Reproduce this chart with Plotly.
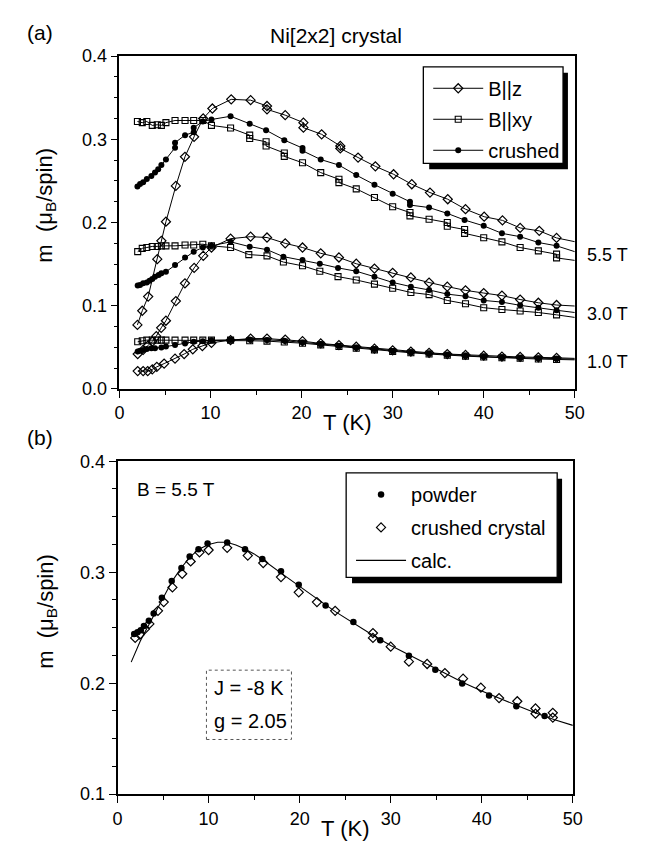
import plotly.graph_objects as go

W, H = 652, 844
def X(px): return px / W
def Y(py): return 1 - py / H

FONT = "Liberation Sans, Arial, sans-serif"

# ---------------- panel (a) data ----------------
# B||z
z55_T = [1.97, 2.5, 3.15, 4.15, 4.6, 5.1, 6.19, 7.19, 8.19, 9.19, 10.2, 12.27, 14.4, 16.2, 16.2, 18.2, 20.2, 20.2, 22.2,
         24.25, 24.25, 26.2, 28.1, 30.1, 32.1, 34.1, 36.05, 38.0, 40.05, 42.06, 44.0, 46.1, 48.0]
z55_m = [0.077, 0.094, 0.111, 0.156, 0.178, 0.201, 0.244, 0.279, 0.303, 0.325, 0.337, 0.348, 0.347, 0.340, 0.336, 0.329,
         0.320, 0.314, 0.306, 0.292, 0.289, 0.278, 0.2675, 0.258, 0.246, 0.236, 0.228, 0.216, 0.207, 0.2026, 0.1935,
         0.190, 0.1815]
z55_end = 0.177
z30_T = [2.0, 2.6, 3.1, 3.6, 4.04, 4.58, 5.1, 6.19, 7.19, 8.2, 9.2, 10.1, 12.2, 14.4, 16.2, 18.2, 20.1, 22.1, 24.1, 26.0,
         28.0, 30.0, 32.0, 34.0, 36.0, 38.0, 40.0, 42.0, 44.0, 46.0, 48.0]
z30_m = [0.042, 0.047, 0.052, 0.057, 0.0635, 0.0735, 0.082, 0.1056, 0.127, 0.1455, 0.160, 0.170, 0.1806, 0.183, 0.182,
         0.175, 0.170, 0.163, 0.158, 0.1505, 0.1447, 0.1396, 0.134, 0.1279, 0.123, 0.1185, 0.1153, 0.1122, 0.1075,
         0.1036, 0.1009]
z30_end = 0.0997
z10_T = [2.0, 2.6, 3.1, 3.6, 4.1, 4.9, 6.1, 7.1, 8.05, 9.1, 10.1, 12.2, 14.4, 16.2, 18.2, 20.1, 22.1, 24.1, 26.0, 28.0,
         30.0, 32.0, 34.0, 36.0, 38.0, 40.0, 42.0, 44.0, 46.0, 48.0]
z10_m = [0.0215, 0.0215, 0.0215, 0.0235, 0.0266, 0.0305, 0.0364, 0.042, 0.0477, 0.0516, 0.0555, 0.0587, 0.0606, 0.0606,
         0.0594, 0.0575, 0.0547, 0.0528, 0.0508, 0.0485, 0.0465, 0.045, 0.0435, 0.042, 0.041, 0.040, 0.039, 0.0385,
         0.038, 0.0375]
z10_end = 0.0368

# B||xy
xy55_T = [1.97, 2.5, 3.0, 3.6, 4.15, 4.6, 5.1, 6.1, 7.2, 8.15, 9.15, 10.1, 12.2, 14.3, 14.3, 16.1, 16.1, 18.1, 18.1, 20.1,
          22.1, 24.1, 24.1, 26.0, 28.0, 30.0, 31.9, 31.9, 34.0, 36.0, 36.0, 37.9, 37.9, 40.0, 42.0, 44.0, 46.0, 48.0, 48.0]
xy55_m = [0.3214, 0.320, 0.3214, 0.3167, 0.3175, 0.3167, 0.320, 0.3226, 0.3226, 0.3226, 0.3226, 0.3167, 0.3136, 0.305,
          0.301, 0.297, 0.292, 0.2835, 0.2795, 0.2718, 0.260, 0.252, 0.248, 0.2405, 0.230, 0.219, 0.212, 0.208, 0.204,
          0.200, 0.1955, 0.1916, 0.187, 0.1818, 0.1768, 0.170, 0.166, 0.162, 0.1575]
xy55_end = 0.1545
xy30_T = [2.0, 2.5, 3.0, 3.6, 4.15, 4.6, 5.1, 6.1, 7.2, 8.15, 9.15, 10.1, 12.2, 14.2, 16.2, 18.0, 20.1, 22.0, 24.0, 26.0,
          28.0, 30.0, 32.0, 34.0, 36.0, 38.0, 40.0, 42.0, 44.0, 46.0, 48.0]
xy30_m = [0.165, 0.169, 0.170, 0.1713, 0.1713, 0.172, 0.172, 0.172, 0.173, 0.173, 0.174, 0.172, 0.170, 0.1615, 0.160,
          0.1525, 0.148, 0.1415, 0.135, 0.131, 0.126, 0.121, 0.116, 0.1134, 0.1064, 0.1024, 0.0977, 0.0955, 0.0938,
          0.0919, 0.0891]
xy30_end = 0.086
xy10_T = [2.0, 2.5, 3.0, 3.6, 4.15, 4.6, 5.1, 6.1, 7.2, 8.15, 9.15, 10.1, 12.2, 14.3, 16.2, 18.1, 20.1, 22.1, 24.1, 26.0,
          28.0, 30.0, 32.0, 34.0, 36.0, 38.0, 40.0, 42.0, 44.0, 46.0, 48.0]
xy10_m = [0.0567, 0.058, 0.0587, 0.0587, 0.0587, 0.0587, 0.0587, 0.0587, 0.0587, 0.0587, 0.0587, 0.0587, 0.0587, 0.058,
          0.0575, 0.0565, 0.055, 0.053, 0.051, 0.049, 0.047, 0.045, 0.0435, 0.042, 0.0405, 0.0395, 0.0385, 0.0375,
          0.037, 0.036, 0.0355]
xy10_end = 0.035

# crushed
cr55_T = [1.97, 2.26, 2.6, 3.0, 3.5, 3.9, 4.25, 4.6, 5.1, 6.1, 6.1, 7.2, 8.15, 8.15, 9.15, 10.1, 12.2, 14.3, 16.1, 18.1,
          20.1, 20.1, 22.1, 24.1, 26.0, 28.0, 30.0, 31.9, 31.9, 34.0, 36.0, 37.9, 40.0, 42.0, 44.0, 46.0, 48.0]
cr55_m = [0.2432, 0.2463, 0.2483, 0.2522, 0.256, 0.260, 0.264, 0.269, 0.2757, 0.290, 0.296, 0.305, 0.3085, 0.314, 0.3214,
          0.3238, 0.3277, 0.3187, 0.3109, 0.299, 0.2895, 0.2862, 0.2757, 0.269, 0.257, 0.2455, 0.2346, 0.225, 0.221,
          0.218, 0.211, 0.203, 0.196, 0.187, 0.183, 0.176, 0.172]
cr55_end = 0.165
cr30_T = [2.0, 2.26, 2.6, 3.0, 3.3, 3.6, 3.9, 4.3, 4.6, 5.1, 6.1, 7.2, 8.15, 9.15, 10.1, 12.2, 14.3, 16.2, 18.0, 20.1,
          22.0, 24.0, 26.0, 28.0, 30.0, 32.0, 34.0, 36.0, 38.0, 40.0, 42.0, 44.0, 46.0, 48.0]
cr30_m = [0.1243, 0.125, 0.127, 0.128, 0.130, 0.1321, 0.135, 0.137, 0.139, 0.1408, 0.149, 0.158, 0.165, 0.170, 0.172,
          0.1768, 0.171, 0.1674, 0.159, 0.155, 0.1505, 0.1455, 0.1415, 0.1349, 0.128, 0.123, 0.119, 0.114, 0.1114,
          0.1064, 0.1044, 0.1005, 0.0977, 0.0946]
cr30_end = 0.0919
cr10_T = [2.0, 2.26, 2.6, 3.0, 3.5, 3.9, 4.6, 5.1, 6.1, 7.2, 8.15, 9.15, 10.1, 12.2, 14.3, 16.2, 18.1, 20.1, 22.1, 24.1,
          26.0, 28.0, 30.0, 32.0, 34.0, 36.0, 38.0, 40.0, 42.0, 44.0, 46.0, 48.0]
cr10_m = [0.045, 0.046, 0.047, 0.048, 0.049, 0.049, 0.050, 0.051, 0.0528, 0.0547, 0.0567, 0.0575, 0.0587, 0.059, 0.0595,
          0.059, 0.058, 0.056, 0.054, 0.052, 0.050, 0.048, 0.0458, 0.0443, 0.0428, 0.0413, 0.040, 0.039, 0.038, 0.0375,
          0.037, 0.0365]
cr10_end = 0.0358

field_labels = ["5.5 T", "3.0 T", "1.0 T"]
field_label_m = [0.161, 0.090, 0.033]

# ---------------- panel (b) data ----------------
powder_T = [1.83, 2.19, 2.55, 2.9, 3.44, 3.97, 4.87, 5.95, 7.02, 7.92, 8.89, 9.89, 12.04, 14.0, 15.9, 17.95, 19.9,
            22.85, 25.9, 28.85, 32.0, 34.9, 37.85, 40.8, 43.8, 46.9]
powder_m = [0.2443, 0.2458, 0.2476, 0.2516, 0.2563, 0.2628, 0.2769, 0.2921, 0.3039, 0.3141, 0.3208, 0.3258, 0.3267,
            0.3208, 0.3118, 0.3009, 0.2886, 0.2701, 0.2551, 0.2388, 0.2247, 0.212, 0.1997, 0.1889, 0.1792, 0.1705]
cc_T = [1.94, 2.45, 3.0, 3.5, 4.44, 5.07, 6.03, 7.1, 8.03, 9.0, 10.0, 12.04, 14.3, 16.0, 17.95, 19.9, 21.9, 23.9, 28.05,
        28.05, 30.0, 32.0, 34.0, 35.95, 37.95, 39.9, 41.9, 43.9, 45.9, 45.9, 47.8, 47.8]
cc_m = [0.2408, 0.2437, 0.2487, 0.2534, 0.2652, 0.2731, 0.2863, 0.2986, 0.3097, 0.3179, 0.320, 0.322, 0.315, 0.3083,
        0.2956, 0.2819, 0.2731, 0.2652, 0.2452, 0.2408, 0.2329, 0.2194, 0.2173, 0.2091, 0.2041, 0.196, 0.1866, 0.1837,
        0.1772, 0.1725, 0.1733, 0.169]
calc_T = [1.5, 2.0, 2.5, 3.0, 4.0, 5.0, 6.0, 7.0, 8.0, 9.0, 10.0, 11.0, 12.0, 13.0, 14.0, 15.0, 16.0, 18.0, 20.0, 22.0,
          24.0, 26.0, 28.0, 30.0, 32.0, 34.0, 36.0, 38.0, 40.0, 42.0, 44.0, 46.0, 48.0, 50.0]
calc_m = [0.219, 0.229, 0.238, 0.246, 0.261, 0.277, 0.292, 0.304, 0.314, 0.321, 0.325, 0.327, 0.327, 0.3245, 0.321,
          0.3165, 0.311, 0.299, 0.287, 0.2755, 0.264, 0.2535, 0.2435, 0.234, 0.2255, 0.2175, 0.209, 0.2005, 0.193,
          0.186, 0.1795, 0.173, 0.167, 0.162]

# ---------------- figure ----------------
fig = go.Figure()
LW = 1.0
sty = {
    "z": dict(symbol="diamond-open", size=7, color="black", line=dict(width=1.2, color="black")),
    "xy": dict(symbol="square-open", size=6, color="black", line=dict(width=1.1, color="black")),
    "cr": dict(symbol="circle", size=6, color="black", line=dict(width=0, color="black")),
}
names = {"z": "B||z", "xy": "B||xy", "cr": "crushed"}
series = {
    "z": [(z55_T, z55_m, z55_end), (z30_T, z30_m, z30_end), (z10_T, z10_m, z10_end)],
    "xy": [(xy55_T, xy55_m, xy55_end), (xy30_T, xy30_m, xy30_end), (xy10_T, xy10_m, xy10_end)],
    "cr": [(cr55_T, cr55_m, cr55_end), (cr30_T, cr30_m, cr30_end), (cr10_T, cr10_m, cr10_end)],
}
for key in ["z", "xy", "cr"]:
    for i, (T, m, end) in enumerate(series[key]):
        fig.add_trace(go.Scatter(x=[T[-1], 50], y=[m[-1], end], mode="lines", line=dict(color="black", width=LW),
                                 showlegend=False, legendgroup=key, xaxis="x", yaxis="y", hoverinfo="skip"))
        fig.add_trace(go.Scatter(x=T, y=m, mode="lines+markers", name=names[key], marker=sty[key],
                                 line=dict(color="black", width=LW), showlegend=(i == 0), legendgroup=key,
                                 xaxis="x", yaxis="y", legend="legend"))

fig.add_trace(go.Scatter(x=powder_T, y=powder_m, mode="markers", name="powder", legendgroup="p",
                         marker=dict(symbol="circle", size=6.5, color="black"), xaxis="x2", yaxis="y2", legend="legend2"))
fig.add_trace(go.Scatter(x=cc_T, y=cc_m, mode="markers", name="crushed crystal", legendgroup="c",
                         marker=dict(symbol="diamond-open", size=7, color="black", line=dict(width=1.2, color="black")),
                         xaxis="x2", yaxis="y2", legend="legend2"))
fig.add_trace(go.Scatter(x=calc_T, y=calc_m, mode="lines", name="calc.", legendgroup="k",
                         line=dict(color="black", width=1.1), xaxis="x2", yaxis="y2", legend="legend2"))

axis_common = dict(showline=True, linecolor="black", linewidth=1.6, mirror=True, ticks="outside", ticklen=7,
                   tickwidth=1.3, tickcolor="black", showgrid=False, zeroline=False,
                   tickfont=dict(family=FONT, size=18, color="black"))
xminor = dict(dtick=5, ticks="outside", ticklen=4, tickwidth=1.1, tickcolor="black", showgrid=False)
yminor = dict(dtick=0.025, ticks="outside", ticklen=4, tickwidth=1.1, tickcolor="black", showgrid=False)

fig.update_layout(
    width=W, height=H, margin=dict(l=0, r=0, t=0, b=0), paper_bgcolor="white", plot_bgcolor="white",
    font=dict(family=FONT, size=18, color="black"),
    xaxis=dict(domain=[X(109), X(575)], range=[0, 50], dtick=10, anchor="y", minor=xminor, **axis_common),
    yaxis=dict(domain=[Y(380), Y(39)], range=[0, 0.4], dtick=0.1, tickformat=".1f", anchor="x", minor=yminor,
               **axis_common),
    xaxis2=dict(domain=[X(107), X(573)], range=[0, 50], dtick=10, anchor="y2", minor=xminor, **axis_common),
    yaxis2=dict(domain=[Y(795), Y(454)], range=[0.1, 0.4], dtick=0.1, tickformat=".1f", anchor="x2", minor=yminor,
                **axis_common),
    legend=dict(x=X(425), y=Y(52), xanchor="left", yanchor="top", bgcolor="rgba(0,0,0,0)", borderwidth=0,
                font=dict(family=FONT, size=20, color="black"), itemwidth=50, tracegroupgap=2),
    legend2=dict(x=X(346), y=Y(468), xanchor="left", yanchor="top", bgcolor="rgba(0,0,0,0)", borderwidth=0,
                 font=dict(family=FONT, size=20, color="black"), itemwidth=50, tracegroupgap=4),
)

shapes = []
# legend boxes with drop shadow
for (x0, y0, x1, y1) in [(420, 50, 563, 149), (341, 466, 557, 573)]:
    shapes.append(dict(type="rect", xref="paper", yref="paper", x0=X(x0 + 6), x1=X(x1 + 5), y0=Y(y1 + 6),
                       y1=Y(y0 + 6), fillcolor="black", line=dict(width=0)))
    shapes.append(dict(type="rect", xref="paper", yref="paper", x0=X(x0), x1=X(x1), y0=Y(y1), y1=Y(y0),
                       fillcolor="white", line=dict(color="black", width=1.3)))
# parameter box
shapes.append(dict(type="rect", xref="paper", yref="paper", x0=X(198), x1=X(285), y0=Y(739), y1=Y(668),
                   fillcolor="white", line=dict(color="#555555", width=1, dash="dot")))
fig.update_layout(shapes=shapes)

ann = []
def txt(text, x, y, size=18, xanchor="center", yanchor="middle", angle=0, xref="paper", yref="paper"):
    ann.append(dict(text=text, x=x, y=y, xref=xref, yref=yref, xanchor=xanchor, yanchor=yanchor, showarrow=False,
                    textangle=angle, font=dict(family=FONT, size=size, color="black")))

txt("(a)", X(28), Y(15), size=21)
txt("(b)", X(28), Y(430), size=21)
txt("Ni[2x2] crystal", X(331), Y(18), size=21)
txt("T (K)", X(342), Y(414), size=22)
txt("T (K)", X(340), Y(830), size=22)
txt("m  (μ<sub>B</sub>/spin)", X(34), Y(192), size=22, angle=-90)
txt("m  (μ<sub>B</sub>/spin)", X(34), Y(608), size=22, angle=-90)
for lab, mv in zip(field_labels, field_label_m):
    txt(lab, X(585), mv, size=18, xanchor="left", yref="y")
txt("B = 5.5 T", X(125), Y(483), size=19, xanchor="left")
txt("J = -8 K", X(204), Y(686), size=20, xanchor="left")
txt("g = 2.05", X(204), Y(720), size=20, xanchor="left")
fig.update_layout(annotations=ann)

fig.write_html("out.html")
